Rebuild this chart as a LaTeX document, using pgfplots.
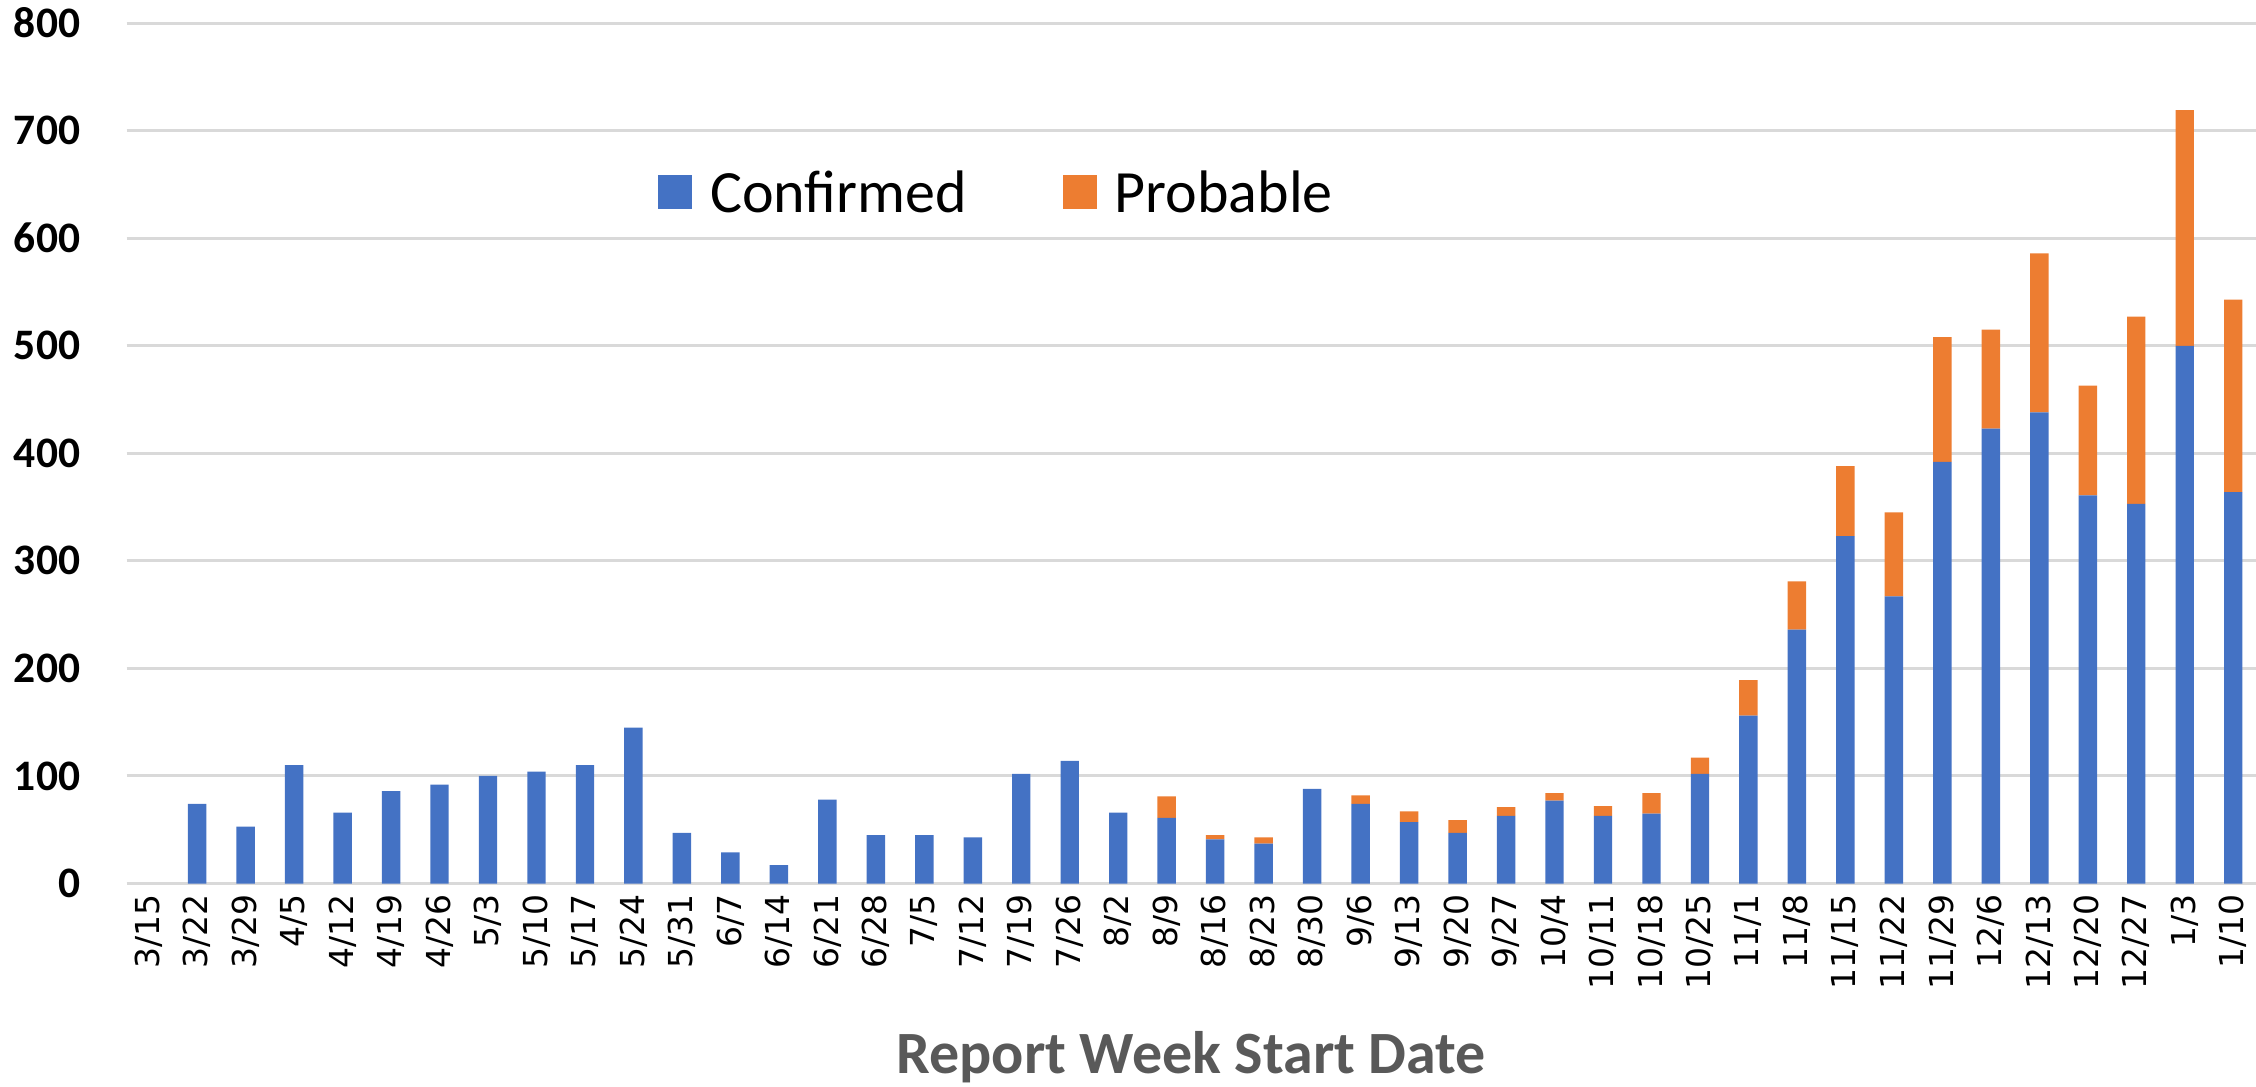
\documentclass[border=0pt]{standalone}
\usepackage{fontspec}
\setmainfont{Carlito}
\newfontfamily\tickfont{DejaVu Sans}
\usepackage{pgfplots}
\pgfplotsset{compat=1.18}
\usepackage{pgfplotstable}
\definecolor{cblue}{HTML}{4472C4}
\definecolor{corange}{HTML}{ED7D31}
\definecolor{gridc}{HTML}{D9D9D9}
\definecolor{labc}{HTML}{595959}
\pgfplotstableread{
idx conf prob
0 0 0
1 74 0
2 53 0
3 110 0
4 66 0
5 86 0
6 92 0
7 100 0
8 104 0
9 110 0
10 145 0
11 47 0
12 29 0
13 17 0
14 78 0
15 45 0
16 45 0
17 43 0
18 102 0
19 114 0
20 66 0
21 61 20
22 41 4
23 37 6
24 88 0
25 74 8
26 57 10
27 47 12
28 63 8
29 77 7
30 63 9
31 65 19
32 102 15
33 156 33
34 236 45
35 323 65
36 267 78
37 392 116
38 423 92
39 438 148
40 361 102
41 353 174
42 500 219
43 364 179
}\datatable
\begin{document}
\begin{tikzpicture}
\path[use as bounding box] (-42.2pt,-67.8pt) rectangle (709.8pt,294.5pt);
\begin{axis}[
  at={(0pt,0pt)}, anchor=south west,
  scale only axis, width=709.8pt, height=286.8pt,
  ybar stacked, bar width=0.38,
  xmin=-0.455, xmax=43.47, ymin=0, ymax=800,
  ytick={0,100,...,800},
  xtick={0,...,43},
  xticklabels={3/15,3/22,3/29,4/5,4/12,4/19,4/26,5/3,5/10,5/17,5/24,5/31,6/7,6/14,6/21,6/28,7/5,7/12,7/19,7/26,8/2,8/9,8/16,8/23,8/30,9/6,9/13,9/20,9/27,10/4,10/11,10/18,10/25,11/1,11/8,11/15,11/22,11/29,12/6,12/13,12/20,12/27,1/3,1/10},
  /pgf/number format/assume math mode=true,
  axis x line*=bottom, axis y line*=left,
  axis line style={draw=none},
  major tick length=0pt,
  ymajorgrids, grid style={draw=gridc, line width=1pt},
  xticklabel style={yshift=-3.4pt, rotate=90, anchor=east, inner sep=0pt, font=\tickfont\fontsize{11}{13}\selectfont},
  yticklabel style={anchor=east, inner sep=0pt, xshift=-15.3pt, font=\bfseries\fontsize{14.5}{17}\selectfont},
  xlabel={Report Week Start Date},
  xlabel style={at={(axis description cs:0.5,0)}, anchor=center, yshift=-58pt, font=\bfseries\fontsize{20}{24}\selectfont, text=labc},
  legend columns=2,
  legend style={at={(axis description cs:0.2494,0.801)}, anchor=west, draw=none, fill=none, inner sep=0pt,
    font=\fontsize{20}{24}\selectfont,
    /tikz/every odd column/.append style={column sep=4pt},
    /tikz/every even column/.append style={column sep=30pt}},
  legend image code/.code={\fill[#1] (0pt,-4.8pt) rectangle (11.3pt,6.5pt);},
]
\addplot[fill=cblue, draw=none] table[x=idx, y=conf] {\datatable};
\addplot[fill=corange, draw=none] table[x=idx, y=prob] {\datatable};
\legend{Confirmed, Probable}
\end{axis}
\end{tikzpicture}
\end{document}
